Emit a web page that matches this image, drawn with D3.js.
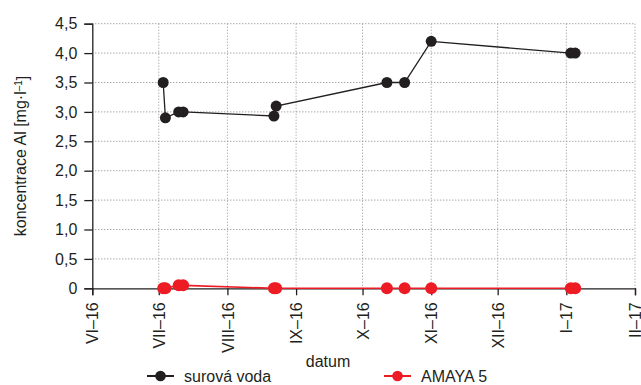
<!DOCTYPE html>
<html>
<head>
<meta charset="utf-8">
<script src="https://cdn.jsdelivr.net/npm/d3@7"></script>
<style>
  html, body { margin: 0; padding: 0; background: #fff; }
  svg { display: block; font-family: "Liberation Sans", Arial, sans-serif; }
</style>
</head>
<body>
<svg id="chart" width="641" height="385"></svg>
<script>
// Sampling dates (both series measured on the same days)
const dates = [
  "2016-07-03", "2016-07-04", "2016-07-10", "2016-07-12",
  "2016-08-22", "2016-08-23", "2016-10-12", "2016-10-20",
  "2016-11-01", "2017-01-03", "2017-01-05"
];
// Aluminium concentration, mg/l
const rawWater = [3.5, 2.9, 3.0, 3.0, 2.93, 3.1, 3.5, 3.5, 4.2, 4.0, 4.0];
const amaya5   = [0, 0, 0.05, 0.05, 0, 0, 0, 0, 0, 0, 0];
const seriesNames = ["surová voda", "AMAYA 5"];
// Month tick labels (Roman numerals)
const monthTicks = ["2016-06-01", "2016-07-01", "2016-08-01", "2016-09-01", "2016-10-01",
                    "2016-11-01", "2016-12-01", "2017-01-01", "2017-02-01"];
const monthLabels = ["VI–16", "VII–16", "VIII–16", "IX–16", "X–16",
                     "XI–16", "XII–16", "I–17", "II–17"];
const yTicks = [0, 0.5, 1, 1.5, 2, 2.5, 3, 3.5, 4, 4.5];

const parse = d3.utcParse("%Y-%m-%d");
const W = 641, H = 385;
const margin = { top: 23.7, right: 6, bottom: 96.7, left: 92.3 };
const innerW = W - margin.left - margin.right;
const innerH = H - margin.top - margin.bottom;

const textColor = "#231f20";
const black = "#231f20";
const red = "#ed1c24";
const fontFamily = "'Liberation Sans', Arial, sans-serif";

const svg = d3.select("#chart");
const g = svg.append("g").attr("transform", `translate(${margin.left},${margin.top})`);

const tickDates = monthTicks.map(parse);
const x = d3.scaleUtc().domain([tickDates[0], tickDates[tickDates.length - 1]]).range([0, innerW]);
const y = d3.scaleLinear().domain([0, 4.5]).range([innerH, 0]);

// Dotted grid
g.append("g").selectAll("line").data(yTicks.filter(d => d > 0)).join("line")
  .attr("x1", 0).attr("x2", innerW)
  .attr("y1", d => y(d)).attr("y2", d => y(d))
  .attr("stroke", "#808080").attr("stroke-width", 1).attr("stroke-dasharray", "1,2");
g.append("g").selectAll("line").data(tickDates.slice(1)).join("line")
  .attr("x1", d => x(d)).attr("x2", d => x(d))
  .attr("y1", 0).attr("y2", innerH)
  .attr("stroke", "#909090").attr("stroke-width", 1).attr("stroke-dasharray", "1,2");

// Y axis
const fmt = d => d === 0 ? "0" : d.toFixed(1).replace(".", ",");
const yAxis = g.append("g")
  .call(d3.axisLeft(y).tickValues(yTicks).tickFormat(fmt).tickSize(8).tickPadding(7));
yAxis.select(".domain").attr("stroke", black).attr("stroke-width", 1.3);
yAxis.selectAll(".tick line").attr("stroke", black).attr("stroke-width", 1.3);
yAxis.selectAll(".tick text").attr("fill", textColor)
  .style("font-size", "16px").style("font-family", fontFamily);

// X axis
const labelByTime = new Map(tickDates.map((d, i) => [+d, monthLabels[i]]));
const xAxis = g.append("g").attr("transform", `translate(0,${innerH})`)
  .call(d3.axisBottom(x).tickValues(tickDates).tickFormat(d => labelByTime.get(+d)).tickSize(7).tickPadding(0));
xAxis.select(".domain").attr("stroke", black).attr("stroke-width", 1.3);
xAxis.selectAll(".tick line").attr("stroke", black).attr("stroke-width", 1.3);
xAxis.selectAll(".tick text")
  .attr("fill", textColor)
  .style("font-size", "16px").style("font-family", fontFamily)
  .attr("text-anchor", "end")
  .attr("transform", "translate(0,14) rotate(-90)")
  .attr("x", 0).attr("y", 0).attr("dy", "0.35em");

// Axis titles
svg.append("text")
  .attr("transform", `translate(26,${margin.top + innerH / 2}) rotate(-90)`)
  .attr("text-anchor", "middle").attr("fill", textColor)
  .style("font-size", "16px")
  .call(t => {
    t.append("tspan").text("koncentrace Al [mg·l");
    t.append("tspan").text("–1").attr("dy", "-0.4em").style("font-size", "10px");
    t.append("tspan").text("]").attr("dy", "0.4em");
  });
svg.append("text")
  .attr("x", 328).attr("y", 367)
  .attr("text-anchor", "middle").attr("fill", textColor)
  .style("font-size", "16px").text("datum");

// Series
const series = [
  { name: seriesNames[0], values: rawWater, color: black, r: 5.5, lw: 1.3 },
  { name: seriesNames[1], values: amaya5, color: red, r: 6, lw: 1.6 }
];
const line = d3.line().x(d => x(d.date)).y(d => y(d.value));
series.forEach(s => {
  const pts = dates.map((d, i) => ({ date: parse(d), value: s.values[i] }));
  g.append("path").datum(pts)
    .attr("fill", "none").attr("stroke", s.color).attr("stroke-width", s.lw)
    .attr("d", line);
  g.append("g").selectAll("circle").data(pts).join("circle")
    .attr("cx", d => x(d.date)).attr("cy", d => y(d.value))
    .attr("r", s.r).attr("fill", s.color);
});

// Legend
const legendItems = [
  { s: series[0], x: 147 },
  { s: series[1], x: 384 }
];
const lg = svg.append("g");
legendItems.forEach(it => {
  const gi = lg.append("g").attr("transform", `translate(${it.x},376)`);
  gi.append("line").attr("x1", 0).attr("x2", 27).attr("y1", 0).attr("y2", 0)
    .attr("stroke", it.s.color).attr("stroke-width", 2);
  gi.append("circle").attr("cx", 13.5).attr("cy", 0).attr("r", 5.3).attr("fill", it.s.color);
  gi.append("text").attr("x", 37).attr("y", 6).attr("fill", textColor)
    .style("font-size", "16px").text(it.s.name);
});
</script>
</body>
</html>
